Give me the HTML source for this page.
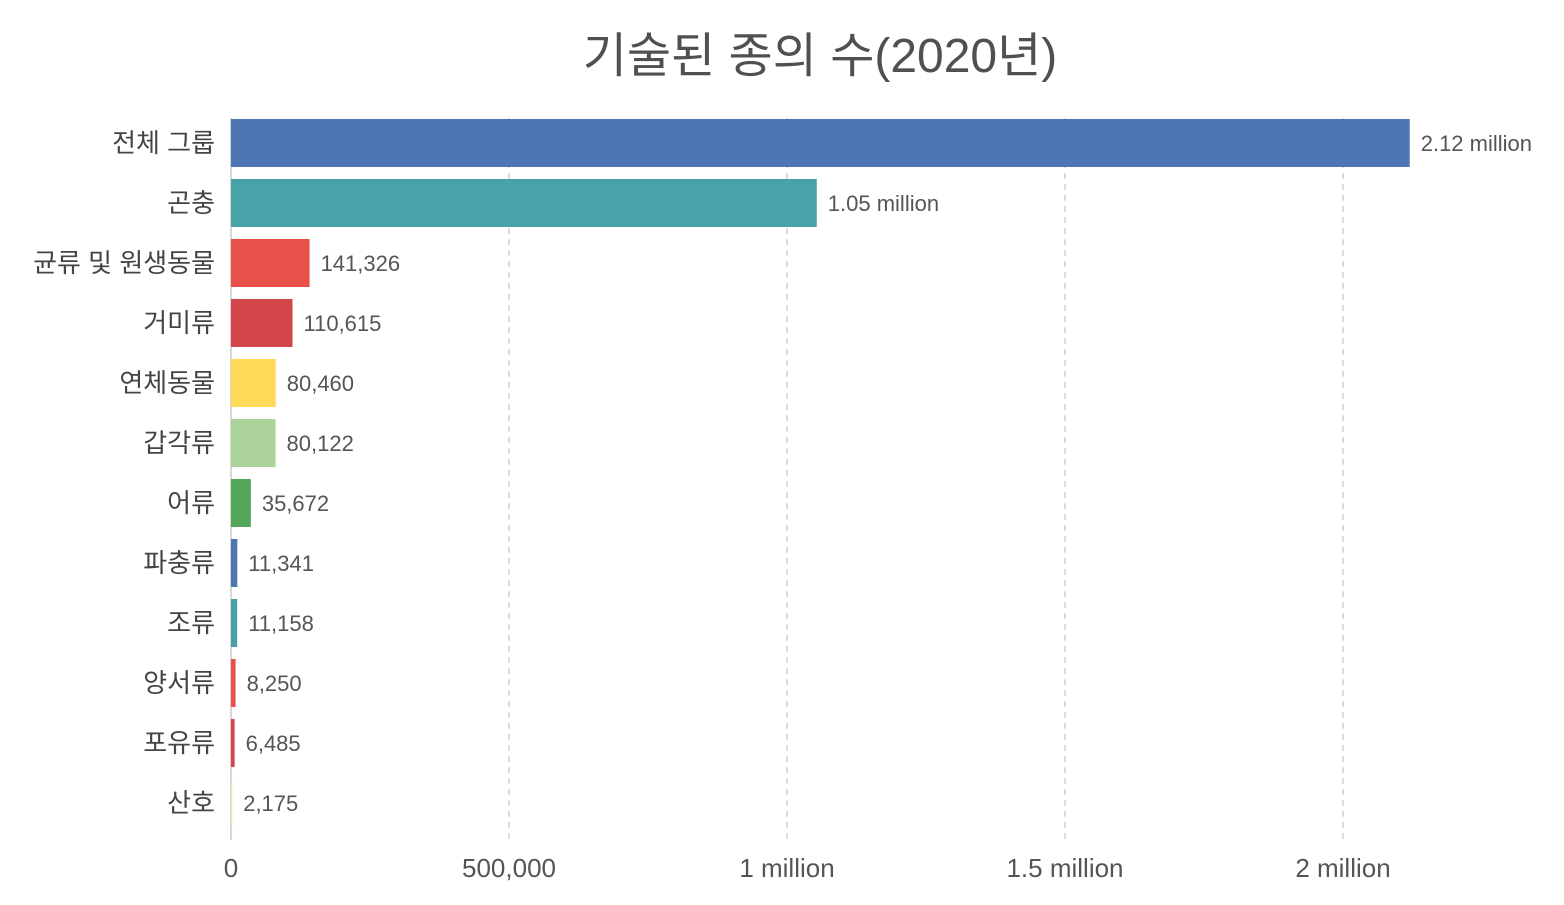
<!DOCTYPE html>
<html><head><meta charset="utf-8"><style>
body{margin:0;background:#fff;}
svg text{font-family:"Liberation Sans","Noto Sans CJK KR",sans-serif;}
</style></head><body>
<svg id="chart" width="1564" height="900" xmlns="http://www.w3.org/2000/svg">
<text x="820" y="72" text-anchor="middle" font-size="48" fill="#505050">기술된 종의 수(2020년)</text>
<g id="grid"></g><g id="bars"></g><g id="labels"></g><g id="ticks"></g>
</svg>
<script>
const categories=["전체 그룹","곤충","균류 및 원생동물","거미류","연체동물","갑각류","어류","파충류","조류","양서류","포유류","산호"];
const values=[2120000,1053578,141326,110615,80460,80122,35672,11341,11158,8250,6485,2175];
const valueLabels=["2.12 million","1.05 million","141,326","110,615","80,460","80,122","35,672","11,341","11,158","8,250","6,485","2,175"];
const colors=["#4e76b3","#48a2a8","#e9504a","#d2454a","#ffd95a","#acd49a","#52a65a","#4e76b3","#48a2a8","#e9504a","#d2454a","#f3dcc0"];
const tickValues=[0,500000,1000000,1500000,2000000];
const tickLabels=["0","500,000","1 million","1.5 million","2 million"];
const NS="http://www.w3.org/2000/svg";
const x0=231,pxPer=556/1e6,top0=113,step=60,bh=48;
const xs=v=>x0+v*pxPer;
const yc=i=>top0+30+i*step;
function mk(t,a,p){const e=document.createElementNS(NS,t);for(const k in a)e.setAttribute(k,a[k]);p.appendChild(e);return e;}
const grid=document.getElementById('grid'),bars=document.getElementById('bars'),labels=document.getElementById('labels'),ticks=document.getElementById('ticks');
tickValues.forEach((v,i)=>{
 if(v>0){const l=mk('line',{x1:xs(v),x2:xs(v),y1:118,y2:840,stroke:"#d0d0d0","stroke-width":1.5,"stroke-dasharray":"6,5"},grid);
 
 }
 const t=mk('text',{x:xs(v),y:877,"text-anchor":"middle","font-size":26,fill:"#555"},ticks);t.textContent=tickLabels[i];
 
 
});
const ax=mk('line',{x1:x0,x2:x0,y1:118,y2:840,stroke:"#ccc","stroke-width":1.5},grid);


categories.forEach((c,i)=>{
 const y=yc(i);
 const r=mk('rect',{x:x0,y:y-bh/2,width:Math.max(1,xs(values[i])-x0),height:bh,fill:colors[i]},bars);
 
 
 const t=mk('text',{x:215,y:y+9,"text-anchor":"end","font-size":26,fill:"#444"},labels);t.textContent=c;
 
 
 const v=mk('text',{x:xs(values[i])+11,y:y+8,"font-size":22,fill:"#555"},labels);v.textContent=valueLabels[i];
 
 
});
</script>
</body></html>
